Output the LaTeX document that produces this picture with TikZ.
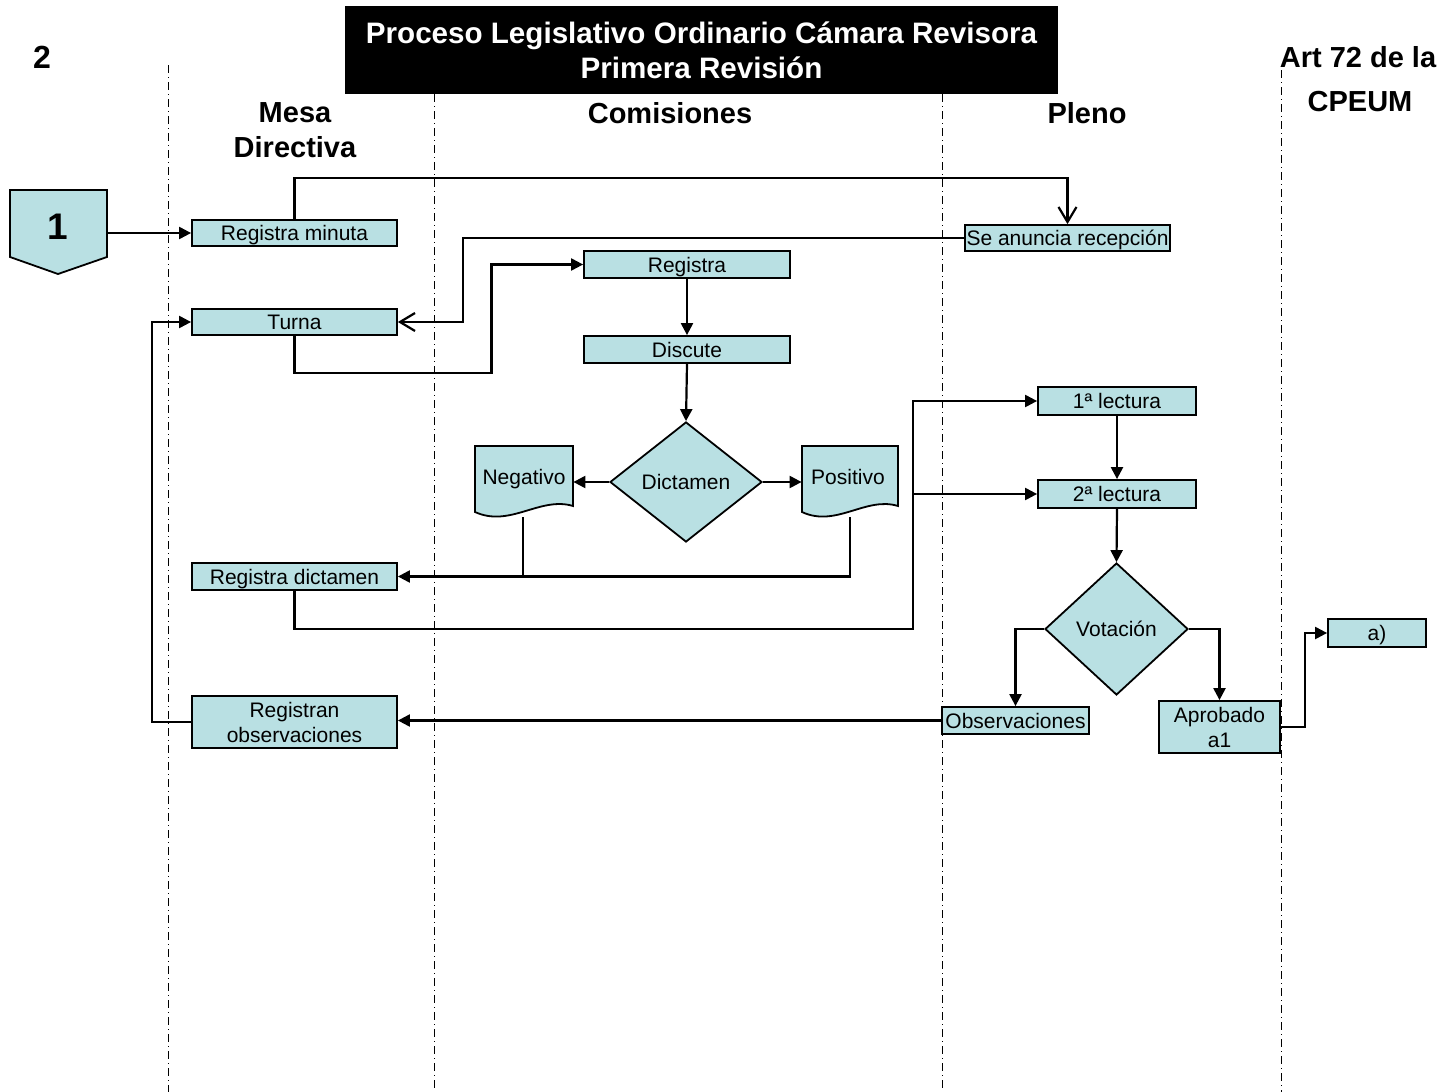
\documentclass[tikz,border=0pt]{standalone}
\usepackage{fontspec}
\setmainfont{Liberation Sans}
\usetikzlibrary{shapes.geometric,arrows.meta,calc}
\definecolor{boxfill}{RGB}{185,224,227}
\tikzset{
  box/.style={draw, fill=boxfill, line width=0.9pt, inner sep=0pt, align=center,
    font=\fontsize{10.5}{12.5}\selectfont},
  oneline/.style={text height=7.5pt, text depth=0pt},
  dia/.style={diamond, draw, fill=boxfill, line width=0.9pt, inner sep=0pt,
    font=\fontsize{10.5}{12.5}\selectfont},
  hdr/.style={font=\fontsize{14.5}{17.5}\selectfont\bfseries, align=center, inner sep=0pt},
  lane/.style={line width=0.5pt, dash pattern=on 4pt off 2pt on 0.5pt off 2pt},
  conn/.style={line width=1.1pt, -{Triangle[length=6pt,width=6pt]}},
  openconn/.style={line width=1.1pt, -{Straight Barb[length=7.5pt,width=9pt,line width=1.1pt]}},
  plain/.style={line width=1.1pt},
}
\begin{document}
\begin{tikzpicture}[x=0.5pt,y=-0.5pt]
\useasboundingbox (0,0) rectangle (1441,1092);

% lanes
\draw[lane] (168,65) -- (168,1092);
\draw[lane] (434,94) -- (434,1092);
\draw[lane] (942,94) -- (942,1092);
\draw[lane] (1281,70) -- (1281,1092);

% title
\node[fill=black, minimum width=356.5pt, minimum height=44pt, inner sep=0pt,
  text=white, font=\fontsize{14.8}{17.5}\selectfont\bfseries, align=center]
  (title) at (701.5,50) {Proceso Legislativo Ordinario Cámara Revisora\\Primera Revisión};

% headers
\node[hdr, font=\fontsize{16}{18}\selectfont\bfseries] (two) at (42,57) {2};
\node[hdr] (mesa) at (295,130) {Mesa\\Directiva};
\node[hdr] (comi) at (670,113) {Comisiones};
\node[hdr] (pleno) at (1087,113) {Pleno};
\node[hdr] (art1) at (1358,57) {Art 72 de la};
\node[hdr] (art2) at (1360,102) {CPEUM};

% off-page connector 1
\draw[fill=boxfill, line width=0.9pt] (10,190) -- (107,190) -- (107,257) -- (58,274) -- (10,257) -- cycle;
\node[font=\fontsize{18.5}{20}\selectfont\bfseries] (one) at (58,227) {1};
\coordinate (oneR) at (107,233);

% boxes
\node[box, oneline, minimum width=102.5pt, minimum height=13pt] (rmin) at (294.5,233) {Registra minuta};
\node[box, oneline, minimum width=102.5pt, minimum height=13pt] (anun) at (1067.5,238) {Se anuncia recepción};
\node[box, oneline, minimum width=103pt, minimum height=13.5pt] (reg) at (687,264.5) {Registra};
\node[box, oneline, minimum width=103pt, minimum height=13.5pt] (disc) at (687,349.5) {Discute};
\node[box, oneline, minimum width=102.5pt, minimum height=13pt] (turna) at (294.5,322) {Turna};
\node[box, oneline, minimum width=102.5pt, minimum height=13.5pt] (rdict) at (294.5,576.5) {Registra dictamen};
\node[box, minimum width=102.5pt, minimum height=26pt] (robs) at (294.5,722) {Registran\\observaciones};
\node[box, oneline, minimum width=79pt, minimum height=14pt] (l1) at (1117,401) {1ª lectura};
\node[box, oneline, minimum width=79pt, minimum height=14pt] (l2) at (1117,494) {2ª lectura};
\node[box, oneline, minimum width=73.5pt, minimum height=13.5pt] (obs) at (1015.5,720.5) {Observaciones};
\node[box, minimum width=60.5pt, minimum height=26pt] (aprob) at (1219.5,727) {Aprobado\\a1};
\node[box, oneline, minimum width=49pt, minimum height=14pt] (ar) at (1377,633) {a)};

\node[dia, oneline, minimum width=76pt, minimum height=60pt] (dict) at (686,482) {Dictamen};
\node[dia, oneline, minimum width=71.5pt, minimum height=66pt] (vot) at (1116.5,629) {Votación};

% documents
\draw[fill=boxfill, line width=0.9pt] (475,446) -- (573,446) -- (573,506)
  .. controls (540,496) and (510,528) .. (475,512) -- cycle;
\node[minimum width=49pt, minimum height=34pt, inner sep=0pt] (neg) at (524,480) {};
\node[font=\fontsize{10.5}{12.5}\selectfont, oneline, inner sep=0pt] (negt) at (524,477) {Negativo};
\coordinate (negb) at (523,517);

\draw[fill=boxfill, line width=0.9pt] (802,446) -- (898,446) -- (898,506)
  .. controls (866,496) and (836,528) .. (802,512) -- cycle;
\node[minimum width=48pt, minimum height=34pt, inner sep=0pt] (pos) at (850,480) {};
\node[font=\fontsize{10.5}{12.5}\selectfont, oneline, inner sep=0pt] (post) at (848,477) {Positivo};
\coordinate (posb) at (850,517);

% connectors
\draw[conn] (oneR) -- (rmin.west);
\draw[openconn] (rmin.north) -- ++(0,-41) -| (anun.north);
\draw[openconn] (anun.west) -- ++(-501,0) |- (turna.east);
\draw[conn] (turna.south) -- ++(0,37) -- ++(197,0) |- (reg.west);
\draw[conn] (reg.south) -- (disc.north);
\draw[conn] (disc.south) -- (dict.north);
\draw[conn] (dict.west) -- (dict.west -| neg.east);
\draw[conn] (dict.east) -- (dict.east -| pos.west);
\draw[plain] (negb) -- (negb |- rdict.east);
\draw[conn] (posb) |- (rdict.east);
\draw[conn] (rdict.south) -- ++(0,38) -- ++(618.5,0) coordinate (jn) |- (l1.west);
\draw[conn] (jn |- l2.west) -- (l2.west);
\draw[conn] (l1.south) -- (l2.north);
\draw[conn] (l2.south) -- (vot.north);
\draw[conn] (vot.west) -| (obs.north);
\draw[conn] (vot.east) -| (aprob.north);
\draw[conn] (aprob.east) -- ++(24,0) |- (ar.west);
\draw[conn] (obs.west) -- (obs.west -| robs.east);
\draw[conn] (robs.west) -- ++(-39,0) |- (turna.west);
\end{tikzpicture}
\end{document}
